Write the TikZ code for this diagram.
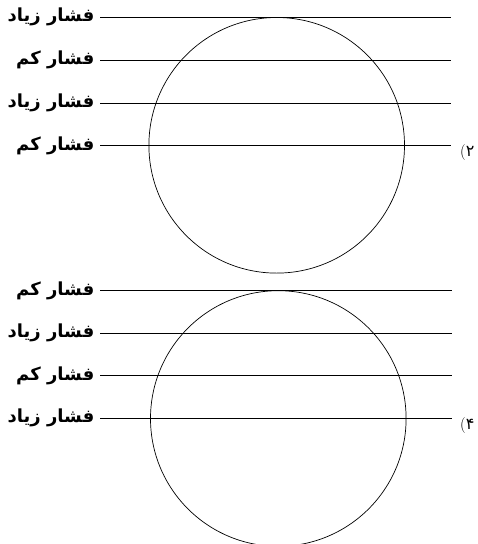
\documentclass[tikz,border=0pt]{standalone}
\usepackage{fontspec}
\TeXXeTstate=1
\newfontfamily\arabicfont[Script=Arabic]{DejaVu Sans}
\begin{document}
\begin{tikzpicture}[x=1pt,y=-1pt,
  pressure/.style={anchor=east,inner sep=5.5pt,font=\arabicfont\bfseries\fontsize{18}{20}\selectfont},
  choice/.style={anchor=west,inner sep=0pt,font=\arabicfont\fontsize{16}{18}\selectfont},
  isobar/.style={line width=0.8pt},
  drop/.style={line width=0.7pt}]
\useasboundingbox (0,0) rectangle (478,544);
\clip (0,0) rectangle (478,544);
% first choice
\coordinate (c2) at (276.7,145.3);
\draw[drop] (c2) circle (127.8);
\node[pressure] (p21) at (100,17.3) {\beginR فشار زیاد\endR};
\node[pressure] (p22) at (100,60.3) {\beginR فشار کم\endR};
\node[pressure] (p23) at (100,103) {\beginR فشار زیاد\endR};
\node[pressure] (p24) at (100,145.7) {\beginR فشار کم\endR};
\coordinate (e21) at (451,17.3);
\coordinate (e22) at (451,60.3);
\coordinate (e23) at (451,103);
\coordinate (e24) at (451,145.7);
\draw[isobar] (p21.east) -- (e21);
\draw[isobar] (p22.east) -- (e22);
\draw[isobar] (p23.east) -- (e23);
\draw[isobar] (p24.east) -- (e24);
\node[choice] (n2) at (460,153) {\hbox{\normalfont(}\hbox{۲}};
% second choice
\coordinate (c4) at (278.3,418.5);
\draw[drop] (c4) circle (127.8);
\node[pressure] (p41) at (100,290.7) {\beginR فشار کم\endR};
\node[pressure] (p42) at (100,333) {\beginR فشار زیاد\endR};
\node[pressure] (p43) at (100,375.7) {\beginR فشار کم\endR};
\node[pressure] (p44) at (100,418.3) {\beginR فشار زیاد\endR};
\coordinate (e41) at (452,290.7);
\coordinate (e42) at (452,333);
\coordinate (e43) at (452,375.7);
\coordinate (e44) at (452,418.3);
\draw[isobar] (p41.east) -- (e41);
\draw[isobar] (p42.east) -- (e42);
\draw[isobar] (p43.east) -- (e43);
\draw[isobar] (p44.east) -- (e44);
\node[choice] (n4) at (460,426) {\hbox{\normalfont(}\hbox{۴}};
\end{tikzpicture}
\end{document}
